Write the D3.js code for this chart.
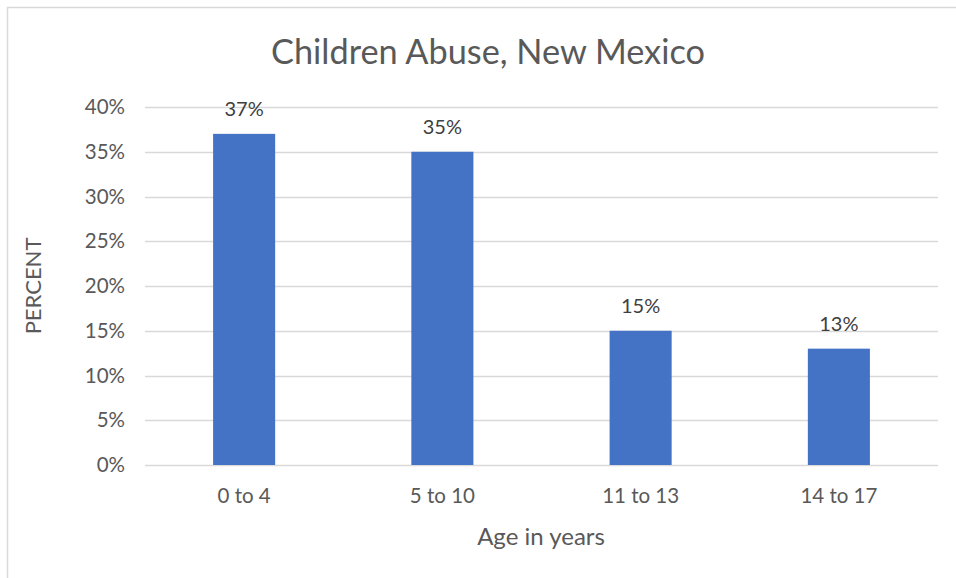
<!DOCTYPE html>
<html>
<head>
<meta charset="utf-8">
<script src="https://cdn.jsdelivr.net/npm/d3@7/dist/d3.min.js"></script>
<style>
  html, body { margin: 0; padding: 0; background: #fff; }
  svg text { font-family: Lato, "Open Sans", sans-serif; }
</style>
</head>
<body>
<svg id="chart" width="956" height="578"></svg>
<script>
// Age groups and share of abuse cases (percent)
const categories = ["0 to 4", "5 to 10", "11 to 13", "14 to 17"];
const percents = [37, 35, 15, 13];
const yTicks = [0, 5, 10, 15, 20, 25, 30, 35, 40];

const svg = d3.select("#chart");
const margin = { left: 145, right: 18, top: 107, bottom: 113 };
const W = 956, H = 578;

// Chart frame (top and left edges visible)
svg.append("path")
  .attr("d", `M7.5,${H} V7.5 H${W}`)
  .attr("fill", "none")
  .attr("stroke", "#d9d9d9")
  .attr("stroke-width", 1.5);

const x = d3.scaleBand()
  .domain(categories)
  .range([margin.left, W - margin.right])
  .paddingInner(0.687)
  .paddingOuter(0.3435);

const y = d3.scaleLinear()
  .domain([0, 40])
  .range([H - margin.bottom, margin.top]);

// Horizontal gridlines
svg.append("g")
  .selectAll("line")
  .data(yTicks)
  .join("line")
  .attr("x1", margin.left)
  .attr("x2", W - margin.right)
  .attr("y1", d => Math.round(y(d)) + 0.5)
  .attr("y2", d => Math.round(y(d)) + 0.5)
  .attr("stroke", "#d9d9d9")
  .attr("stroke-width", 1.3);

// Y axis tick labels
const yAxis = d3.axisLeft(y).tickValues(yTicks).tickFormat(d => d + "%").tickSize(0).tickPadding(20);
const gy = svg.append("g").attr("transform", `translate(${margin.left},0)`).call(yAxis);
gy.select(".domain").remove();
gy.selectAll("text").attr("font-size", 20.5).attr("fill", "#595959")
  .attr("font-family", "Lato, sans-serif");

// Bars
svg.append("g")
  .selectAll("rect")
  .data(percents)
  .join("rect")
  .attr("x", (d, i) => x(categories[i]))
  .attr("width", x.bandwidth())
  .attr("y", d => y(d))
  .attr("height", d => y(0) - y(d))
  .attr("fill", "#4472c4");

// Value labels
svg.append("g")
  .selectAll("text")
  .data(percents)
  .join("text")
  .attr("x", (d, i) => x(categories[i]) + x.bandwidth() / 2)
  .attr("y", d => y(d) - 18)
  .attr("text-anchor", "middle")
  .attr("font-size", 20)
  .attr("fill", "#404040")
  .text(d => d + "%");

// X axis category labels
const xAxis = d3.axisBottom(x).tickSize(0).tickPadding(23);
const gx = svg.append("g").attr("transform", `translate(0,${y(0)})`).call(xAxis);
gx.select(".domain").remove();
gx.selectAll("text").attr("font-size", 20.5).attr("fill", "#595959")
  .attr("font-family", "Lato, sans-serif");

// Title
svg.append("text")
  .attr("x", 488)
  .attr("y", 64)
  .attr("text-anchor", "middle")
  .attr("font-size", 34.3)
  .attr("fill", "#595959")
  .text("Children Abuse, New Mexico");

// Axis titles
svg.append("text")
  .attr("x", 541)
  .attr("y", 545)
  .attr("text-anchor", "middle")
  .attr("font-size", 24)
  .attr("fill", "#595959")
  .text("Age in years");

svg.append("text")
  .attr("transform", "translate(41,286) rotate(-90)")
  .attr("text-anchor", "middle")
  .attr("font-size", 22)
  .attr("fill", "#595959")
  .text("PERCENT");
</script>
</body>
</html>
